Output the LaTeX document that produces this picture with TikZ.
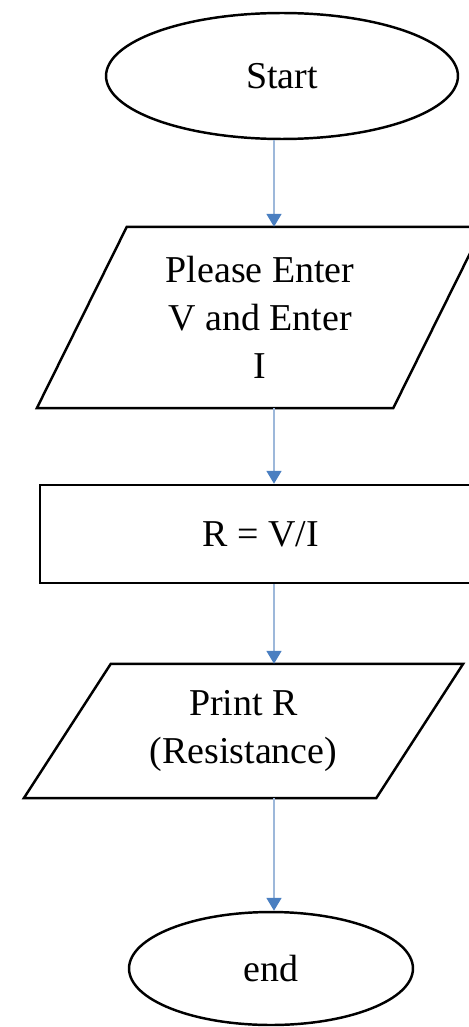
\documentclass[tikz,border=0pt]{standalone}
\usepackage{fontspec}
\setmainfont{Liberation Serif}
\usepackage{xcolor}
\usetikzlibrary{shapes.geometric,arrows.meta}

\definecolor{flowline}{HTML}{9DB8DA}
\definecolor{flowhead}{HTML}{4A7FC1}

\begin{document}
\begin{tikzpicture}[x=0.02cm, y=-0.02cm,
    box/.style={draw=black, line width=1.4pt, align=center, inner sep=0pt,
        font=\fontsize{21.6}{27.3}\selectfont},
    terminal/.style={box, ellipse},
    process/.style={box, rectangle},
    inout/.style={box, draw=none, rectangle},
    slant/.style={draw=black, line width=1.4pt, line join=miter},
    flow/.style={draw=flowline, line width=1pt,
        -{Triangle[width=0.3cm, length=0.26cm, color=flowhead]}}]

        % Frame
        \useasboundingbox (0,0) rectangle (468,1027);

        % Flowchart boxes
        \node[terminal, minimum width=7.04cm, minimum height=2.52cm] (start) at (282,76) {Start};
        \node[inout, minimum width=8.88cm, minimum height=3.58cm] (enter) at (260,317.5)
            {Please Enter\\V and Enter\\I};
        \node[process, minimum width=8.84cm, minimum height=1.96cm] (calc) at (261,534) {R = V/I};
        \node[inout, minimum width=8.74cm, minimum height=2.64cm] (print) at (243.5,731)
            {Print R\\(Resistance)};
        \node[terminal, minimum width=5.68cm, minimum height=2.26cm] (stop) at (271,968.5) {end};

        % Parallelogram outlines
        \draw[slant] ([xshift=1.8cm]enter.north west) -- (enter.north east)
            -- ([xshift=-1.8cm]enter.south east) -- (enter.south west) -- cycle;
        \draw[slant] ([xshift=1.74cm]print.north west) -- (print.north east)
            -- ([xshift=-1.74cm]print.south east) -- (print.south west) -- cycle;

        % Arrows
        \coordinate (axis) at (274,0);
        \draw[flow] (start.south -| axis) -- (enter.north -| axis);
        \draw[flow] (enter.south -| axis) -- (calc.north -| axis);
        \draw[flow] (calc.south -| axis) -- (print.north -| axis);
        \draw[flow] (print.south -| axis) -- (stop.north -| axis);

\end{tikzpicture}
\end{document}
